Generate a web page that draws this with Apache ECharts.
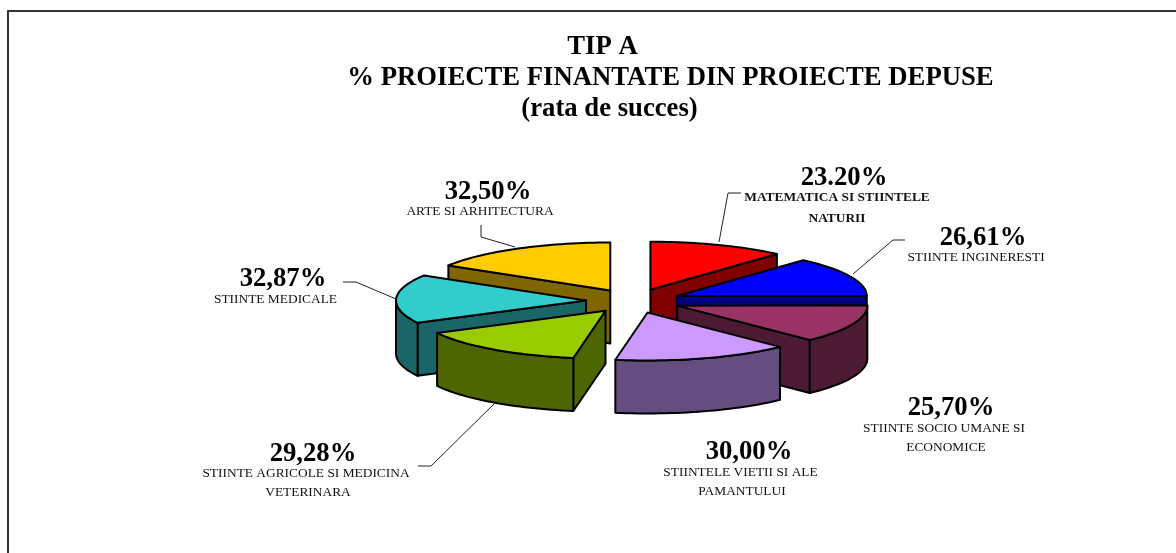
<!DOCTYPE html>
<html>
<head>
<meta charset="utf-8">
<style>html,body{margin:0;padding:0;background:#fff}#c{width:1176px;height:553px}</style>
<script src="https://cdn.jsdelivr.net/npm/echarts@6/dist/echarts.min.js"></script>
</head>
<body>
<div id="c"></div>
<script>
// ---- data ----
const titleLines = ['TIP A', '% PROIECTE FINANTATE DIN PROIECTE DEPUSE', '(rata de succes)'];
const categories = [
  ['MATEMATICA SI STIINTELE', 'NATURII'],
  ['STIINTE INGINERESTI'],
  ['STIINTE SOCIO UMANE SI', 'ECONOMICE'],
  ['STIINTELE VIETII SI ALE', 'PAMANTULUI'],
  ['STIINTE AGRICOLE SI MEDICINA', 'VETERINARA'],
  ['STIINTE MEDICALE'],
  ['ARTE SI ARHITECTURA']
];
const values = [23.20, 26.61, 25.70, 30.00, 29.28, 32.87, 32.50];
const valueLabels = ['23.20%', '26,61%', '25,70%', '30,00%', '29,28%', '32,87%', '32,50%'];

// ---- styles ----
const topColors  = ['#FF0000', '#0000FF', '#993366', '#CC99FF', '#99CC00', '#33CCCC', '#FFCC00'];
const sideColors = ['#800000', '#000080', '#4D1A33', '#664D80', '#4D6600', '#1A6666', '#806600'];
const pie = { cx: 633.5, cy: 301, rx: 190, ry: 48, depth: 53, explode: 0.25 };
const serif = '"Liberation Serif","Times New Roman",serif';

// ---- label layout: value position, caption lines positions, leader polyline ----
const labelLayout = [
  { v: [844, 178],   c: [[837, 198], [837, 219]], bold: true, line: [[741, 193], [728, 193], [719, 242]] },
  { v: [983, 238],   c: [[976, 257]],             line: [[905, 240], [893, 240], [853, 274]] },
  { v: [951, 408],   c: [[944, 428], [946, 447]] },
  { v: [749, 452],   c: [[740.5, 472], [742, 491]] },
  { v: [313, 454],   c: [[306, 473], [308, 492]], line: [[418, 466], [431, 466], [494, 404]] },
  { v: [283, 279],   c: [[275.5, 299]],           line: [[343, 282], [356, 282], [396, 299]] },
  { v: [488, 192],   c: [[480, 211]],             line: [[481, 225], [481, 237], [515, 247]] }
];
const titleLayout = [[602.5, 47.5], [670.5, 78.5], [609.5, 109.5]];

// ---- chart ----
const total = values.reduce((a, b) => a + b, 0);
const TAU = Math.PI * 2;

function renderSlice(params, api) {
  const i = params.dataIndex;
  let before = 0;
  for (let k = 0; k < i; k++) before += values[k];
  const a0 = before / total * TAU;
  const a1 = (before + api.value(0)) / total * TAU;
  const mid = (a0 + a1) / 2;
  const ax = pie.cx + pie.explode * pie.rx * Math.sin(mid);
  const ay = pie.cy - pie.explode * pie.ry * Math.cos(mid);
  const pt = a => [ax + pie.rx * Math.sin(a), ay - pie.ry * Math.cos(a)];
  const down = p => [p[0], p[1] + pie.depth];
  const arc = (s, e) => {
    const out = [], n = Math.max(2, Math.ceil((e - s) / 0.03));
    for (let k = 0; k <= n; k++) out.push(pt(s + (e - s) * k / n));
    return out;
  };
  const base = Math.round(-Math.cos(mid) * 1000) + 2000;
  const style = fill => ({ fill, stroke: '#000', lineWidth: 2, lineJoin: 'round' });
  const face = (points, fill, z) => ({ type: 'polygon', shape: { points }, style: style(fill), z2: base + z, silent: true });
  const apex = [ax, ay];
  const kids = [];
  // radial walls that face the viewer
  if (Math.sin(a0) < 0) kids.push(face([apex, pt(a0), down(pt(a0)), down(apex)], sideColors[i], 0));
  if (Math.sin(a1) > 0) kids.push(face([apex, pt(a1), down(pt(a1)), down(apex)], sideColors[i], 0));
  // outer rim, the front half of the ellipse
  const s = Math.max(a0, Math.PI / 2), e = Math.min(a1, Math.PI * 1.5);
  if (e > s) {
    const rim = arc(s, e);
    kids.push(face(rim.concat(rim.map(down).reverse()), sideColors[i], 1));
  }
  // top
  kids.push(face([apex].concat(arc(a0, a1)), topColors[i], 2));
  return { type: 'group', children: kids };
}

const graphics = [];
// frame: only top and left edges are present
graphics.push({ type: 'polyline', shape: { points: [[1176, 11], [8, 11], [8, 553]] }, style: { stroke: '#333', lineWidth: 2, fill: null }, silent: true });
titleLines.forEach((t, i) => graphics.push({
  type: 'text', silent: true,
  style: { text: t, x: titleLayout[i][0], y: titleLayout[i][1], align: 'center', verticalAlign: 'middle', fill: '#000', font: 'bold 26.7px ' + serif }
}));
labelLayout.forEach((l, i) => {
  graphics.push({ type: 'text', silent: true, style: { text: valueLabels[i], x: l.v[0], y: l.v[1], align: 'center', verticalAlign: 'middle', fill: '#000', font: 'bold 26.7px ' + serif } });
  categories[i].forEach((t, j) => graphics.push({
    type: 'text', silent: true,
    style: { text: t, x: l.c[j][0], y: l.c[j][1], align: 'center', verticalAlign: 'middle', fill: '#111', font: (l.bold ? 'bold 13.4px ' : '13.4px ') + serif }
  }));
  if (l.line) graphics.push({ type: 'polyline', silent: true, shape: { points: l.line }, style: { stroke: '#222', lineWidth: 1, fill: null } });
});

const chart = echarts.init(document.getElementById('c'), null, { renderer: 'canvas' });
chart.setOption({
  animation: false,
  backgroundColor: '#fff',
  series: [{
    type: 'custom',
    coordinateSystem: 'none',
    silent: true,
    data: values.map((v, i) => ({ value: [v], name: categories[i].join(' ') })),
    renderItem: renderSlice
  }],
  graphic: { elements: graphics }
});
</script>
</body>
</html>
